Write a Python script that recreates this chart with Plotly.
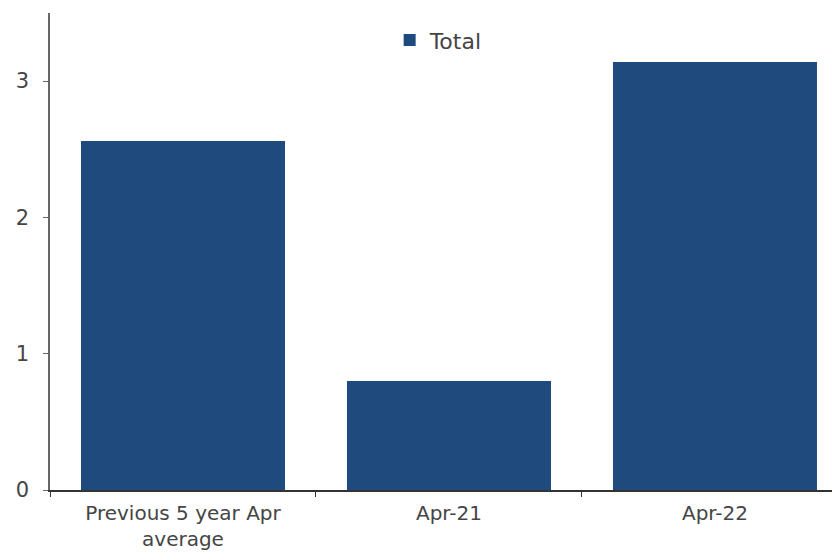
import plotly.graph_objects as go

categories = ["Previous 5 year Apr<br>average", "Apr-21", "Apr-22"]
values = [2.56, 0.80, 3.14]
series_name = "Total"
y_ticks = [0, 1, 2, 3]

fig = go.Figure()
fig.add_trace(go.Bar(x=categories, y=values, name=series_name,
                     marker=dict(color="#1F4A7E", line=dict(width=0))))

fig.update_layout(
    width=824, height=544,
    margin=dict(l=42, r=0, t=5, b=62, autoexpand=False),
    paper_bgcolor="white", plot_bgcolor="white",
    bargap=0.233,
    showlegend=True,
    legend=dict(x=0.497, xanchor="center", y=0.987, yanchor="top", orientation="h",
                font=dict(family="DejaVu Sans", size=22, color="#454545"),
                bgcolor="rgba(0,0,0,0)", itemwidth=30),
    font=dict(family="DejaVu Sans", size=20, color="#454545"),
)
fig.update_xaxes(range=[-0.5, 2.44], showline=True, linecolor="#333333", linewidth=1.5,
                 automargin=False, ticklabelstandoff=4,
                 ticks="outside", tickson="boundaries", ticklen=5, tickcolor="#333333",
                 showgrid=False, tickfont=dict(size=20, color="#454545"))
fig.update_yaxes(range=[0, 3.5], tickvals=y_ticks, showline=True, linecolor="#666666",
                 linewidth=1.5, ticks="outside", ticklen=5, tickcolor="#666666", automargin=False,
                 ticklabelstandoff=10,
                 showgrid=False, zeroline=False, tickfont=dict(size=21, color="#454545"))

fig.write_html("out.html")
